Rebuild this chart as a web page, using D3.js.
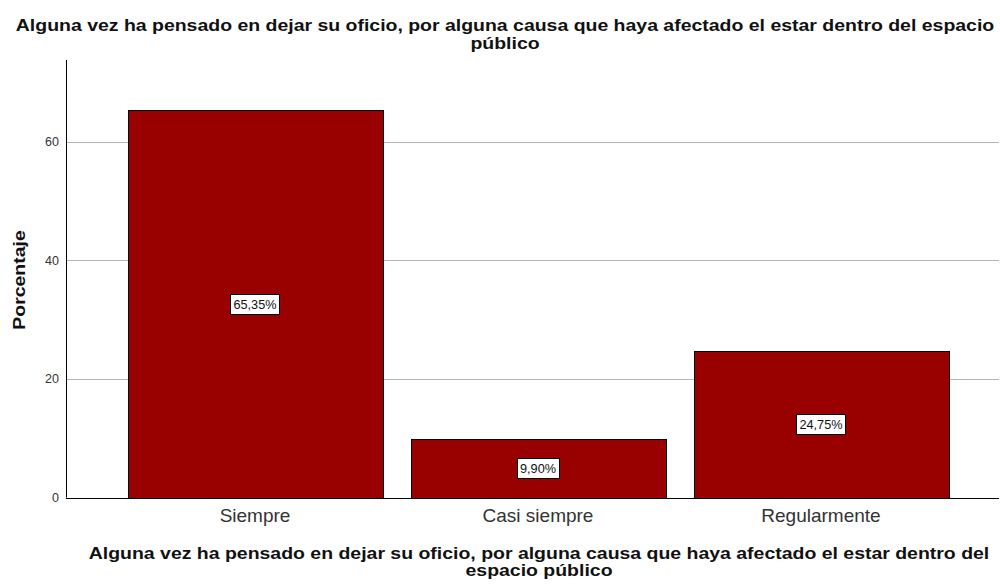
<!DOCTYPE html>
<html><head><meta charset="utf-8">
<script src="https://cdn.jsdelivr.net/npm/d3@7"></script>
<style>body{margin:0;background:#fff}svg{display:block;font-family:"Liberation Sans",Arial,sans-serif}</style>
</head><body>
<svg id="c" width="1000" height="584"></svg>
<script>
const categories = ["Siempre", "Casi siempre", "Regularmente"];
const values = [65.35, 9.90, 24.75];
const valueLabels = ["65,35%", "9,90%", "24,75%"];
const yTicks = [0, 20, 40, 60];
const titleLines = ["Alguna vez ha pensado en dejar su oficio, por alguna causa que haya afectado el estar dentro del espacio", "público"];
const xTitleLines = ["Alguna vez ha pensado en dejar su oficio, por alguna causa que haya afectado el estar dentro del", "espacio público"];
const yTitle = "Porcentaje";

const svg = d3.select("#c");
const pLeft = 66, pRight = 999, pTop = 60, pBottom = 497.5;
const stretch = 1.18;
const y = d3.scaleLinear().domain([0, 73.8]).range([pBottom, pTop]);
const x = d3.scaleBand().domain(categories).range([113.5, 962.5]).paddingInner(0.1).paddingOuter(0.05);

// gridlines
svg.append("g").selectAll("line").data(yTicks.filter(d => d > 0)).join("line")
  .attr("x1", pLeft).attr("x2", pRight).attr("y1", d => Math.round(y(d)) + 0.5).attr("y2", d => Math.round(y(d)) + 0.5)
  .attr("stroke", "#b4b4b4").attr("stroke-width", 1);

// bars
svg.append("g").selectAll("rect").data(values).join("rect")
  .attr("x", (d, i) => Math.round(x(categories[i])) + 0.5)
  .attr("y", d => Math.round(y(d)) + 0.5)
  .attr("width", Math.round(x.bandwidth()))
  .attr("height", d => Math.round(y(0)) - Math.round(y(d)))
  .attr("fill", "#990000").attr("stroke", "#000").attr("stroke-width", 1);

// axes
const yAxis = d3.axisLeft(y).tickValues(yTicks).tickSize(0).tickPadding(7);
const gy = svg.append("g").attr("transform", `translate(${pLeft},0)`).call(yAxis);
gy.select(".domain").attr("stroke", "#000").attr("d", `M0.5,${pTop}V${pBottom}`);
gy.selectAll("text").attr("font-size", 12.5).attr("fill", "#333").attr("font-family", "Liberation Sans, Arial, sans-serif");

svg.append("line").attr("x1", pLeft).attr("x2", pRight).attr("y1", Math.round(pBottom) + 0.5).attr("y2", Math.round(pBottom) + 0.5).attr("stroke", "#000");

const xAxis = d3.axisBottom(x).tickSize(0).tickPadding(11);
const gx = svg.append("g").attr("transform", `translate(0,${pBottom})`).call(xAxis);
gx.select(".domain").remove();
gx.selectAll("text").attr("font-size", 19).attr("fill", "#333").attr("font-family", "Liberation Sans, Arial, sans-serif");

// value labels
const lab = svg.append("g").selectAll("g").data(values).join("g")
  .attr("transform", (d, i) => `translate(${Math.round(x(categories[i]) + x.bandwidth() / 2)},${Math.round(y(d / 2))})`);
lab.append("text").text((d, i) => valueLabels[i])
  .attr("text-anchor", "middle").attr("dy", "0.36em").attr("font-size", 12.7).attr("fill", "#111")
  .each(function () {
    const b = this.getBBox();
    d3.select(this.parentNode).insert("rect", "text")
      .attr("x", Math.round(b.x - 3) + 0.5).attr("y", -9.5).attr("width", Math.round(b.width + 6)).attr("height", 20)
      .attr("fill", "#fff").attr("stroke", "#000");
  });

// titles (horizontally stretched bold text)
function stretchedTitle(lines, cx, y0, dy) {
  svg.append("g").attr("transform", `translate(${cx},0) scale(${stretch},1)`)
    .append("text").attr("text-anchor", "middle").attr("font-weight", "bold").attr("font-size", 16.5).attr("fill", "#111")
    .selectAll("tspan").data(lines).join("tspan")
    .attr("x", 0).attr("y", (d, i) => y0 + i * dy).text(d => d);
}
stretchedTitle(titleLines, 505, 31, 18);
stretchedTitle(xTitleLines, 539, 559, 17);

svg.append("text").attr("text-anchor", "middle").attr("font-weight", "bold").attr("font-size", 16.5).attr("fill", "#111")
  .attr("transform", `translate(25,280) rotate(-90) scale(${stretch},1)`).text(yTitle);
</script>
</body></html>
